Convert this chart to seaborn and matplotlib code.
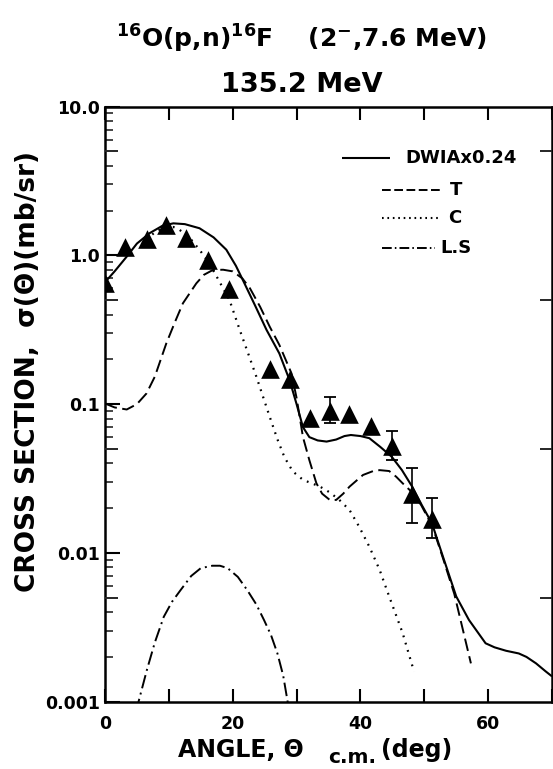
import numpy as np
import pandas as pd
import matplotlib
matplotlib.use("Agg")
import matplotlib.pyplot as plt
import seaborn as sns
from matplotlib.ticker import LogLocator, NullFormatter, NullLocator, FixedLocator

# ---------------- data ----------------
data_angle = [0.0, 3.1, 6.5, 9.5, 12.7, 16.1, 19.4, 25.8, 28.9, 32.1, 35.2, 38.2, 41.7, 44.9, 48.1, 51.2]
data_xs = [0.648, 1.14, 1.28, 1.60, 1.31, 0.93, 0.59, 0.172, 0.147, 0.081, 0.090, 0.0853, 0.0713, 0.0523, 0.0249, 0.0168]
err_low = [np.nan] * 10 + [0.0743, np.nan, np.nan, 0.042, 0.0160, 0.0125]
err_high = [np.nan] * 10 + [0.111, np.nan, np.nan, 0.066, 0.0371, 0.0233]

dwia_angle = [0, 1.5, 3.4, 5, 7.0, 9, 10.7, 12.5, 14.8, 17, 19.0, 20.5, 21.6, 23.5, 25.3, 27.3, 28.9, 30, 31.0,
              32.0, 33.3, 34.7, 36.2, 37.5, 38.5, 40, 41.4, 43.1, 44.9, 46.5, 48.1, 49.6, 51.2, 52.9, 55.0,
              57.0, 59.6, 61, 62.8, 64.8, 66, 67.5, 69, 70]
dwia_xs = [0.66, 0.78, 0.98, 1.2, 1.41, 1.58, 1.64, 1.62, 1.52, 1.32, 1.09, 0.85, 0.68, 0.46, 0.315, 0.219, 0.145,
           0.10, 0.070, 0.060, 0.057, 0.056, 0.0578, 0.061, 0.062, 0.061, 0.059, 0.0516, 0.0443, 0.036, 0.0279,
           0.021, 0.0158, 0.0095, 0.0051, 0.00354, 0.00247, 0.00232, 0.00220, 0.00211, 0.00200, 0.00181,
           0.0016, 0.00148]

t_angle = [0, 1.5, 3.4, 5, 6.5, 7.8, 9.6, 11, 12.2, 14.3, 15.5, 16.9, 18.5, 20.0, 21.5, 22.7, 24.3, 25.8, 27.3,
           29.2, 30, 31.0, 32, 33.1, 34, 35.2, 36.2, 37.3, 38.3, 40.4, 42, 43.0, 44.5, 45.6, 46.6, 47.7, 49.5,
           51.3, 53, 54.7, 56, 57.3]
t_xs = [0.101, 0.095, 0.092, 0.100, 0.118, 0.153, 0.256, 0.36, 0.476, 0.648, 0.74, 0.797, 0.80, 0.78, 0.70, 0.60,
        0.45, 0.331, 0.25, 0.161, 0.11, 0.060, 0.042, 0.0294, 0.025, 0.0227, 0.0227, 0.025, 0.0279, 0.0334,
        0.0355, 0.036, 0.0355, 0.0325, 0.0294, 0.0265, 0.021, 0.015, 0.0090, 0.0053, 0.0031, 0.00181]

c_angle = [6.5, 8, 9.5, 10.7, 11.7, 13.2, 14.8, 16.2, 17.5, 19.5, 21.1, 22.4, 23.7, 25.8, 27.0, 28.1, 29.4,
           31.0, 32.5, 33.6, 35.2, 36.7, 38.3, 39.8, 41.4, 43.0, 44.5, 46.6, 48.4]
c_xs = [1.28, 1.45, 1.55, 1.55, 1.48, 1.32, 1.09, 0.90, 0.718, 0.50, 0.315, 0.22, 0.153, 0.082, 0.058, 0.044,
        0.0353, 0.031, 0.0292, 0.028, 0.0255, 0.0227, 0.0194, 0.015, 0.011, 0.0077, 0.0051, 0.0029, 0.00159]

ls_angle = [5.0, 5.25, 6.55, 7.8, 9.2, 10.5, 11.8, 13.5, 15.0, 16.8, 18, 19.2, 20.8, 22.3, 23.7, 24.9, 26,
            27.0, 27.9, 28.6, 28.8]
ls_xs = [0.00085, 0.001, 0.00163, 0.0025, 0.00372, 0.0047, 0.0056, 0.0070, 0.0079, 0.0082, 0.0082, 0.0079,
         0.0069, 0.0056, 0.0045, 0.00354, 0.0028, 0.00211, 0.0015, 0.001, 0.00085]

x_ticks = [0, 10, 20, 30, 40, 50, 60, 70]
x_ticklabels = ["0", "", "20", "", "40", "", "60", ""]
y_ticks = [0.001, 0.01, 0.1, 1.0, 10.0]
y_ticklabels = ["0.001", "0.01", "0.1", "1.0", "10.0"]
legend_labels = ["DWIAx0.24", "T", "C", "L.S"]

# ---------------- style ----------------
sns.set_theme(style="ticks")
plt.rcParams["font.family"] = ["DejaVu Sans"]
plt.rcParams["font.weight"] = "bold"
plt.rcParams["mathtext.fontset"] = "dejavusans"
plt.rcParams["mathtext.default"] = "bf"
plt.rcParams["axes.linewidth"] = 1.8
plt.rcParams["lines.solid_capstyle"] = "butt"

fig = plt.figure(figsize=(5.53, 7.69), dpi=100)
ax = fig.add_axes([0.1899, 0.0875, 0.8083, 0.774])
ax.set_facecolor("white")

curves = pd.concat([
    pd.DataFrame({"angle": dwia_angle, "xs": dwia_xs, "curve": "DWIA"}),
    pd.DataFrame({"angle": t_angle, "xs": t_xs, "curve": "T"}),
    pd.DataFrame({"angle": c_angle, "xs": c_xs, "curve": "C"}),
    pd.DataFrame({"angle": ls_angle, "xs": ls_xs, "curve": "LS"}),
], ignore_index=True)

dash_styles = {"DWIA": "", "T": (6.5, 2.8), "C": (0.8, 2.6), "LS": (7.0, 2.3, 1.0, 2.3)}
width_map = {"DWIA": 1.5, "T": 1.4, "C": 1.6, "LS": 1.4}

for name, sub in curves.groupby("curve", sort=False):
    sns.lineplot(data=sub, x="angle", y="xs", ax=ax, color="black", sort=False, estimator=None,
                 lw=width_map[name], dashes=False, legend=False,
                 **({} if dash_styles[name] == "" else {"linestyle": (0, dash_styles[name])}))

pts = pd.DataFrame({"angle": data_angle, "xs": data_xs, "lo": err_low, "hi": err_high})
eb = pts.dropna()
ax.errorbar(eb["angle"], eb["xs"], yerr=[eb["xs"] - eb["lo"], eb["hi"] - eb["xs"]], fmt="none",
            ecolor="black", elinewidth=1.2, capsize=4, capthick=1.3, zorder=4)
sns.scatterplot(data=pts, x="angle", y="xs", ax=ax, marker="^", s=180, color="black",
                edgecolor="black", linewidth=0, zorder=5, legend=False)

ax.set_yscale("log")
ax.set_xlim(0, 70)
ax.set_ylim(1e-3, 10)
ax.set_xticks(x_ticks)
ax.set_xticklabels(x_ticklabels)
ax.set_yticks(y_ticks)
ax.set_yticklabels(y_ticklabels)
ax.yaxis.set_minor_locator(LogLocator(base=10, subs=[2, 3, 4, 6, 7, 8, 9]))
ax.yaxis.set_minor_formatter(NullFormatter())
ax.xaxis.set_minor_locator(NullLocator())
ax.set_xlabel("")
ax.set_ylabel("")
for s in ax.spines.values():
    s.set_visible(True)
    s.set_linewidth(1.8)
    s.set_color("black")

ax.tick_params(axis="x", which="major", direction="in", top=True, bottom=True, length=9.5, width=1.5,
               labelsize=12.5, pad=9.5, colors="black")
ax.tick_params(axis="y", which="major", direction="in", left=True, right=True, length=11, width=1.5,
               labelsize=12.5, pad=3.5, colors="black")
ax.tick_params(axis="y", which="minor", direction="in", left=True, right=True, length=5.5, width=1.2)
for lab in ax.get_xticklabels() + ax.get_yticklabels():
    lab.set_fontweight("bold")

# medium ticks at the 5s
ax2 = ax.twinx()
ax2.set_yscale("log")
ax2.set_ylim(1e-3, 10)
ax2.yaxis.set_major_locator(FixedLocator([0.005, 0.05, 0.5, 5]))
ax2.yaxis.set_minor_locator(NullLocator())
ax2.tick_params(axis="y", which="major", direction="in", left=True, right=True, length=9, width=1.4,
                labelleft=False, labelright=False)
for s in ax2.spines.values():
    s.set_visible(False)

# ---------------- legend (manual, like the original) ----------------
lt = ax.transAxes
key_style = [("-", 1.5, None), ("--", 1.4, (4.5, 1.8)), (":", 1.5, (0.8, 1.8)), ("-.", 1.4, (5, 1.6, 0.8, 1.6))]
key_x = [(0.5295, 0.6376), (0.619, 0.7494), (0.619, 0.745), (0.619, 0.738)]
key_y = [0.914, 0.8597, 0.8132, 0.7628]
text_x = [0.671, 0.772, 0.767, 0.7494]
for (ls, lw, dash), (x0, x1), yy, tx, lab in zip(key_style, key_x, key_y, text_x, legend_labels):
    line, = ax.plot([x0, x1], [yy, yy], transform=lt, color="black", lw=lw)
    if dash is not None:
        line.set_dashes(dash)
    ax.text(tx, yy, lab, transform=lt, ha="left", va="center", fontsize=13, fontweight="bold", color="black")

# ---------------- titles and axis labels ----------------
fig.text(0.546, 0.9376, r"$^{16}$O(p,n)$^{16}$F    (2$^{-}$,7.6 MeV)", ha="center", va="baseline",
         fontsize=18, fontweight="bold", color="black")
fig.text(0.545, 0.880, "135.2 MeV", ha="center", va="baseline", fontsize=19.5, fontweight="bold",
         color="black")

fig.text(178 / 553, 1 - 757 / 769, "ANGLE, Θ", ha="left", va="baseline", fontsize=17, fontweight="bold",
         color="black")
fig.text(328 / 553, 1 - 763 / 769, "c.m.", ha="left", va="baseline", fontsize=14.5, fontweight="bold",
         color="black")
fig.text(381 / 553, 1 - 757 / 769, "(deg)", ha="left", va="baseline", fontsize=17, fontweight="bold",
         color="black")

fig.text(28 / 553, 1 - 371 / 769, "CROSS SECTION,  σ(Θ)(mb/sr)", rotation=90, ha="center", va="center",
         fontsize=19, fontweight="bold", color="black")

fig.savefig("out.png", dpi=100, facecolor="white")
